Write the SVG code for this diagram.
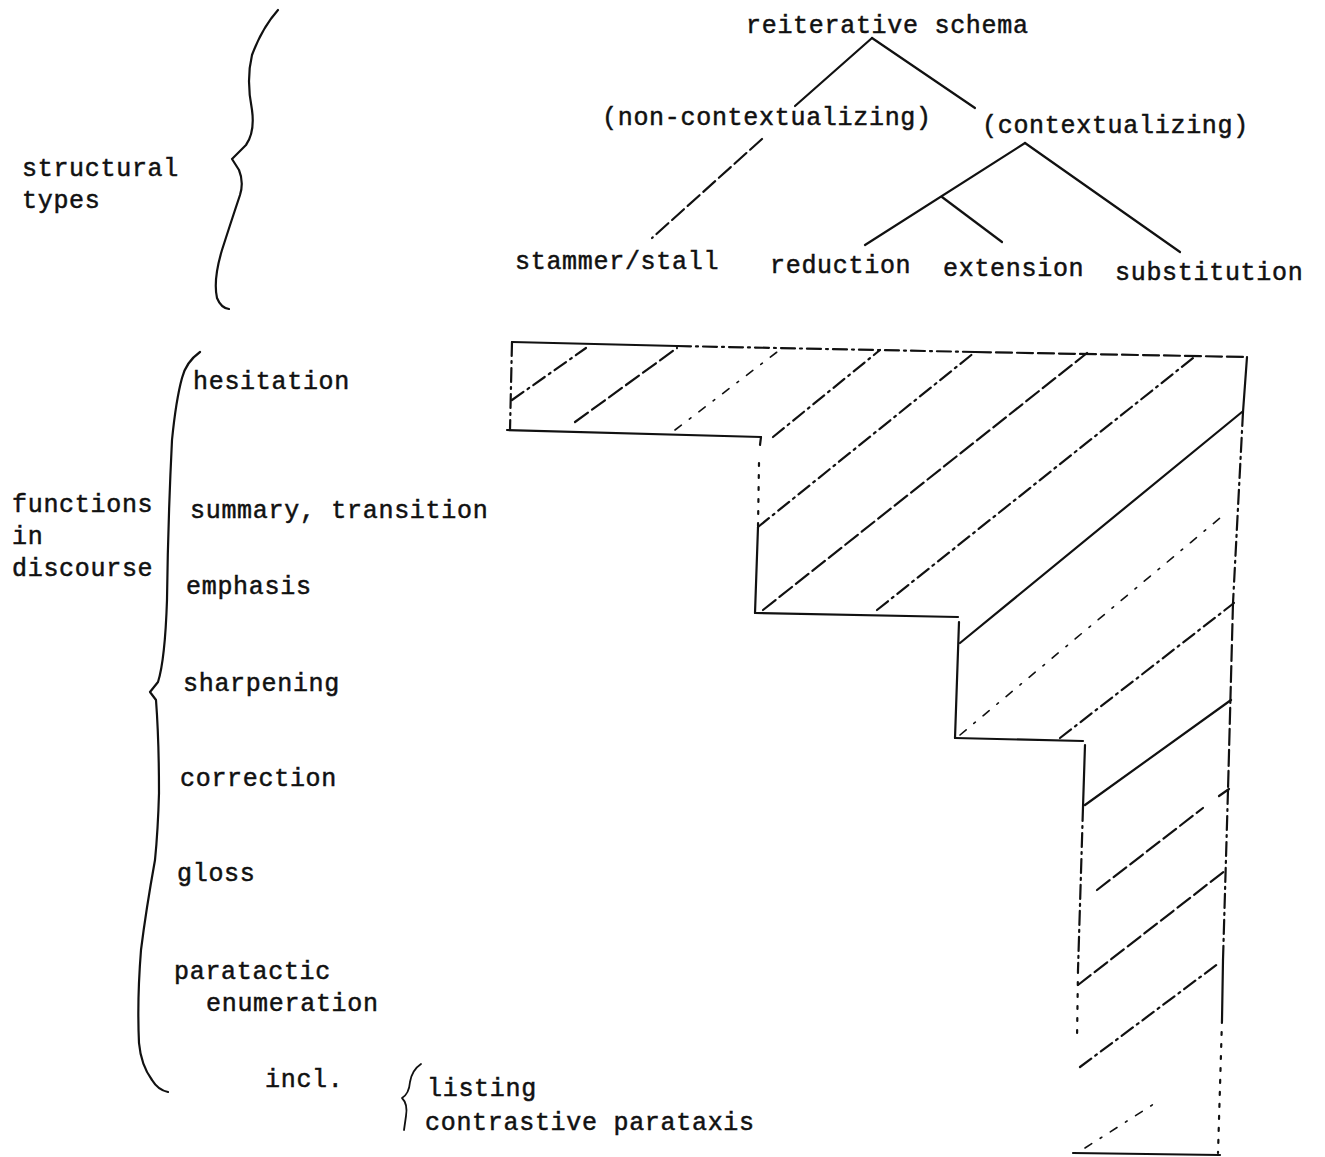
<svg xmlns="http://www.w3.org/2000/svg" width="1325" height="1157" viewBox="0 0 1325 1157">
<style>
text{font-family:"Liberation Mono","DejaVu Sans Mono",monospace;font-size:25px;letter-spacing:0.7px;fill:#111;stroke:#111;stroke-width:0.5px}
.ln{stroke:#111;stroke-width:2.2;fill:none;stroke-linecap:round;stroke-linejoin:round}
.dash{stroke-dasharray:16 5}
.dd{stroke-dasharray:14 5 2 5}
.dot{stroke-dasharray:3 9}
.faint{stroke-dasharray:8 10 2 10;stroke-width:1.6}
</style>
<rect width="1325" height="1157" fill="#fff"/>

<g id="connectors">
<line class="ln" x1="872" y1="38" x2="795" y2="106"/>
<line class="ln" x1="872" y1="38" x2="975" y2="108"/>
<line class="ln dash" x1="762" y1="139" x2="652" y2="238"/>
<line class="ln" x1="1025" y1="143" x2="865" y2="245"/>
<line class="ln" x1="942" y1="197" x2="1002" y2="242"/>
<line class="ln" x1="1025" y1="143" x2="1180" y2="252"/>
</g>

<g id="node-reiterative-schema"><text x="746" y="33">reiterative schema</text></g>
<g id="node-non-contextualizing"><text x="602" y="125">(non-contextualizing)</text></g>
<g id="node-contextualizing"><text x="982" y="133">(contextualizing)</text></g>
<g id="node-stammer-stall"><text x="515" y="269">stammer/stall</text></g>
<g id="node-reduction"><text x="770" y="273">reduction</text></g>
<g id="node-extension"><text x="943" y="276">extension</text></g>
<g id="node-substitution"><text x="1115" y="280">substitution</text></g>

<g id="brace-structural">
<path class="ln" d="M278,10 Q262,28 252,55 Q246,80 252,110 Q255,132 246,145 L232,159 L239,170 Q244,182 240,195 Q230,225 222,250 Q213,280 217,298 Q221,308 229,309"/>
<text x="22" y="176">structural</text>
<text x="22" y="208">types</text>
</g>

<g id="brace-functions">
<path class="ln" d="M200,352 Q186,362 182,378 Q176,400 172,440 Q168,520 167,600 Q165,660 158,682 L150,692 L156,700 Q159,740 159,793 Q158,830 155,860 Q146,910 141,950 Q137,1000 139,1043 Q141,1065 152,1080 Q158,1090 168,1092"/>
<text x="12" y="512">functions</text>
<text x="12" y="544">in</text>
<text x="12" y="576">discourse</text>
</g>

<g id="node-hesitation"><text x="193" y="389">hesitation</text></g>
<g id="node-summary"><text x="190" y="518">summary, transition</text></g>
<g id="node-emphasis"><text x="186" y="594">emphasis</text></g>
<g id="node-sharpening"><text x="183" y="691">sharpening</text></g>
<g id="node-correction"><text x="180" y="786">correction</text></g>
<g id="node-gloss"><text x="177" y="881">gloss</text></g>
<g id="node-paratactic"><text x="174" y="979">paratactic</text><text x="206" y="1011">enumeration</text></g>
<g id="node-incl">
<text x="265" y="1087">incl.</text>
<path class="ln" d="M421,1064 Q412,1070 410,1082 Q409,1094 402,1098 Q408,1104 406,1116 L404,1130" style="stroke-width:1.8"/>
<text x="427" y="1096">listing</text>
<text x="425" y="1130">contrastive parataxis</text>
</g>

<g id="staircase">
<line class="ln" x1="512" y1="342" x2="677" y2="346"/>
<line class="ln dd" x1="677" y1="346" x2="975" y2="352"/>
<line class="ln dash" x1="975" y1="352" x2="1247" y2="357"/>
<line class="ln dd" x1="512" y1="342" x2="510" y2="430"/>
<line class="ln" x1="507" y1="430" x2="761" y2="437"/>
<line class="ln" x1="761" y1="437" x2="760" y2="445"/>
<line class="ln dot" x1="759" y1="463" x2="758" y2="527"/>
<line class="ln" x1="758" y1="527" x2="755" y2="613"/>
<line class="ln" x1="755" y1="613" x2="958" y2="617"/>
<line class="ln" x1="959" y1="622" x2="955" y2="738"/>
<line class="ln" x1="955" y1="738" x2="1083" y2="741"/>
<line class="ln" x1="1085" y1="745" x2="1083" y2="807"/>
<line class="ln dd" x1="1083" y1="807" x2="1078" y2="970"/>
<line class="ln dot" x1="1078" y1="970" x2="1077" y2="1040"/>
<line class="ln" x1="1073" y1="1153" x2="1220" y2="1155"/>
<line class="ln" x1="1247" y1="357" x2="1243" y2="412"/>
<line class="ln dd" x1="1243" y1="412" x2="1233" y2="603"/>
<line class="ln dash" x1="1233" y1="603" x2="1228" y2="790"/>
<line class="ln dd" x1="1228" y1="790" x2="1223" y2="960"/>
<line class="ln" x1="1223" y1="960" x2="1222" y2="1020"/>
<line class="ln dot" x1="1222" y1="1020" x2="1218" y2="1153"/>
</g>

<g id="hatching">
<line class="ln dd" x1="512" y1="400" x2="586" y2="348"/>
<line class="ln dash" x1="575" y1="422" x2="677" y2="348"/>
<line class="ln faint" x1="675" y1="430" x2="777" y2="352"/>
<line class="ln dd" x1="773" y1="437" x2="880" y2="350"/>
<line class="ln dd" x1="758" y1="527" x2="975" y2="352"/>
<line class="ln dash" x1="763" y1="610" x2="1087" y2="353"/>
<line class="ln dd" x1="877" y1="610" x2="1193" y2="358"/>
<line class="ln" x1="960" y1="643" x2="1242" y2="412"/>
<line class="ln faint" x1="960" y1="735" x2="1220" y2="518"/>
<line class="ln dd" x1="1060" y1="738" x2="1234" y2="603"/>
<line class="ln" x1="1085" y1="805" x2="1231" y2="700"/>
<line class="ln dash" x1="1097" y1="890" x2="1203" y2="808"/>
<line class="ln" x1="1219" y1="796" x2="1229" y2="789"/>
<line class="ln dash" x1="1078" y1="985" x2="1226" y2="870"/>
<line class="ln dd" x1="1080" y1="1067" x2="1219" y2="963"/>
<line class="ln faint" x1="1085" y1="1148" x2="1160" y2="1100"/>
</g>
</svg>
